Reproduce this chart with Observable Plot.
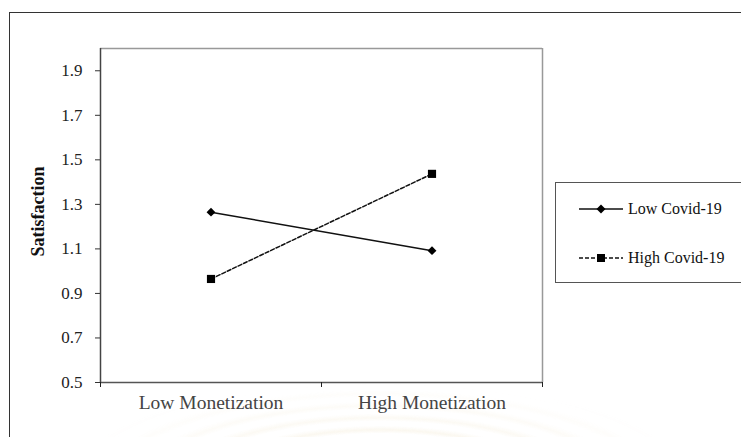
<!DOCTYPE html>
<html>
<head>
<meta charset="utf-8">
<script src="https://cdn.jsdelivr.net/npm/d3@7"></script>
<script src="https://cdn.jsdelivr.net/npm/@observablehq/plot@0.6"></script>
<style>
  html, body { margin: 0; padding: 0; background: #fff; }
  #wrap { position: relative; width: 741px; height: 437px; overflow: hidden; background: #fff; }
  #wash {
    position: absolute; left: 60px; top: 380px; width: 640px; height: 120px;
    background:
      repeating-radial-gradient(ellipse at 50% 95%, rgba(232,214,170,0) 0px, rgba(232,214,170,0.22) 10px, rgba(232,214,170,0) 22px, rgba(232,214,170,0) 34px);
    -webkit-mask-image: radial-gradient(ellipse at 50% 90%, #000 30%, transparent 70%);
    mask-image: radial-gradient(ellipse at 50% 90%, #000 30%, transparent 70%);
  }
  #border { position: absolute; left: 9px; top: 12px; width: 800px; height: 500px; border: 1.5px solid #333; }
  #chart { position: absolute; left: 0; top: 0; }
  #chart svg text { font-family: "Liberation Serif", "Times New Roman", serif; }
  #legend {
    position: absolute; left: 555px; top: 182px; width: 220px; height: 99px;
    border: 1px solid #555; background: #fff;
    font-family: "Liberation Serif", "Times New Roman", serif; font-size: 16px; color: #111;
  }
  .item { position: absolute; left: 22px; display: flex; align-items: center; }
  .item svg { display: block; margin-right: 4px; }
</style>
</head>
<body>
<div id="wrap">
  <div id="wash"></div>
  <div id="border"></div>
  <div id="chart"></div>
  <div id="legend"></div>
</div>
<script>
// Interaction of monetization and Covid-19 level on satisfaction
const categories = ["Low Monetization", "High Monetization"];
const seriesNames = ["Low Covid-19", "High Covid-19"];
const lowCovid = [1.265, 1.092];
const highCovid = [0.965, 1.437];
const yTicks = [0.5, 0.7, 0.9, 1.1, 1.3, 1.5, 1.7, 1.9];

const rows = [
  ...categories.map((c, i) => ({series: seriesNames[0], pos: i + 0.5, value: lowCovid[i]})),
  ...categories.map((c, i) => ({series: seriesNames[1], pos: i + 0.5, value: highCovid[i]}))
];
const low = rows.filter(d => d.series === seriesNames[0]);
const high = rows.filter(d => d.series === seriesNames[1]);

const chart = Plot.plot({
  width: 741,
  height: 437,
  marginLeft: 100,
  marginRight: 199,
  marginTop: 48,
  marginBottom: 55,
  style: {background: "transparent"},
  x: {domain: [0, 2]},
  y: {domain: [0.5, 2.0]},
  marks: [
    // plot-area frame: light top/right, dark axes
    Plot.ruleY([2.0], {stroke: "#999", strokeWidth: 1.5}),
    Plot.ruleX([2], {stroke: "#999", strokeWidth: 1.5}),
    Plot.ruleX([0], {stroke: "#444", strokeWidth: 1.5}),
    Plot.ruleY([0.5], {stroke: "#555", strokeWidth: 1.5}),
    Plot.axisY({ticks: yTicks, tickSize: 5, tickPadding: 13, fontSize: 17, fill: "#222", stroke: "#333", tickFormat: d3.format(".1f"), label: null}),
    Plot.axisX({ticks: [0, 1, 2], tickSize: 5, tickFormat: () => "", stroke: "#222", label: null}),
    Plot.axisX({ticks: [0.5, 1.5], tickSize: 0, tickPadding: 13, fontSize: 19.5, fill: "#444",
      tickFormat: d => categories[Math.floor(d)], label: null}),
    Plot.text(["Satisfaction"], {frameAnchor: "left", textAnchor: "middle", dx: -62, dy: -4, rotate: -90, fontSize: 18, fontWeight: "bold", fill: "#111", letterSpacing: 0.6}),
    Plot.line(low, {x: "pos", y: "value", stroke: "#111", strokeWidth: 1.5}),
    Plot.line(high, {x: "pos", y: "value", stroke: "#111", strokeWidth: 1.5, strokeDasharray: "4,2"}),
    Plot.dot(low, {x: "pos", y: "value", symbol: "diamond2", r: 4, fill: "#000", stroke: "none"}),
    Plot.dot(high, {x: "pos", y: "value", symbol: "square", r: 4.6, fill: "#000", stroke: "none"})
  ]
});
document.getElementById("chart").appendChild(chart);

// legend with line samples
const legend = document.getElementById("legend");
const items = [
  {name: seriesNames[0], dash: null, marker: "diamond", top: 17},
  {name: seriesNames[1], dash: "4,2", marker: "square", top: 66}
];
for (const it of items) {
  const div = document.createElement("div");
  div.className = "item";
  div.style.top = it.top + "px";
  const ns = "http://www.w3.org/2000/svg";
  const svg = document.createElementNS(ns, "svg");
  svg.setAttribute("width", 46);
  svg.setAttribute("height", 16);
  const line = document.createElementNS(ns, "line");
  line.setAttribute("x1", 1); line.setAttribute("x2", 45);
  line.setAttribute("y1", 8); line.setAttribute("y2", 8);
  line.setAttribute("stroke", "#111"); line.setAttribute("stroke-width", 1.5);
  if (it.dash) line.setAttribute("stroke-dasharray", it.dash);
  svg.appendChild(line);
  const m = document.createElementNS(ns, "path");
  m.setAttribute("d", it.marker === "diamond"
    ? "M23,3.5L27.5,8L23,12.5L18.5,8Z"
    : "M19,4H27V12H19Z");
  m.setAttribute("fill", "#000");
  svg.appendChild(m);
  div.appendChild(svg);
  const span = document.createElement("span");
  span.textContent = it.name;
  div.appendChild(span);
  legend.appendChild(div);
}
</script>
</body>
</html>
